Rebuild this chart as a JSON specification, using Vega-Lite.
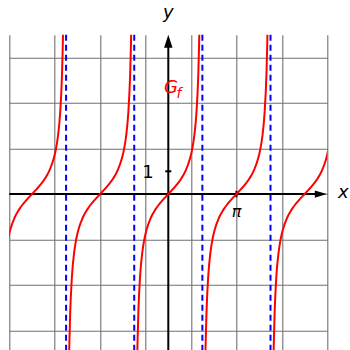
{
  "$schema": "https://vega.github.io/schema/vega-lite/v6.json",
  "width": 318,
  "height": 315.3,
  "autosize": {"type": "none"},
  "padding": {"left": 9.3, "top": 34.7, "right": 22.7, "bottom": 0},
  "background": "white",
  "config": {"view": {"stroke": null}},
  "datasets": {
    "asym": [{"x": -4.712389}, {"x": -1.570796}, {"x": 1.570796}, {"x": 4.712389}],
    "curve": [
      {"b": -2, "x": -7.38319, "y": -1.9648}, {"b": -2, "x": -7.28319, "y": -1.5574}, {"b": -2, "x": -7.08319, "y": -1.0296}, {"b": -2, "x": -6.88319, "y": -0.6841}, {"b": -2, "x": -6.68319, "y": -0.4228}, {"b": -2, "x": -6.48319, "y": -0.2027}, {"b": -2, "x": -6.28319, "y": 0}, {"b": -2, "x": -6.08319, "y": 0.2027}, {"b": -2, "x": -5.88319, "y": 0.4228}, {"b": -2, "x": -5.68319, "y": 0.6841}, {"b": -2, "x": -5.48319, "y": 1.0296}, {"b": -2, "x": -5.28319, "y": 1.5574}, {"b": -2, "x": -5.18319, "y": 1.9648}, {"b": -2, "x": -5.08319, "y": 2.5722}, {"b": -2, "x": -4.98319, "y": 3.6021}, {"b": -2, "x": -4.90319, "y": 5.1775}, {"b": -2, "x": -4.86319, "y": 6.5812}, {"b": -2, "x": -4.83319, "y": 8.2381}, {"b": -2, "x": -4.80319, "y": 10.9834},
      {"b": -1, "x": -4.62159, "y": -10.9834}, {"b": -1, "x": -4.59159, "y": -8.2381}, {"b": -1, "x": -4.56159, "y": -6.5812}, {"b": -1, "x": -4.52159, "y": -5.1775}, {"b": -1, "x": -4.44159, "y": -3.6021}, {"b": -1, "x": -4.34159, "y": -2.5722}, {"b": -1, "x": -4.24159, "y": -1.9648}, {"b": -1, "x": -4.14159, "y": -1.5574}, {"b": -1, "x": -3.94159, "y": -1.0296}, {"b": -1, "x": -3.74159, "y": -0.6841}, {"b": -1, "x": -3.54159, "y": -0.4228}, {"b": -1, "x": -3.34159, "y": -0.2027}, {"b": -1, "x": -3.14159, "y": 0}, {"b": -1, "x": -2.94159, "y": 0.2027}, {"b": -1, "x": -2.74159, "y": 0.4228}, {"b": -1, "x": -2.54159, "y": 0.6841}, {"b": -1, "x": -2.34159, "y": 1.0296}, {"b": -1, "x": -2.14159, "y": 1.5574}, {"b": -1, "x": -2.04159, "y": 1.9648}, {"b": -1, "x": -1.94159, "y": 2.5722}, {"b": -1, "x": -1.84159, "y": 3.6021}, {"b": -1, "x": -1.76159, "y": 5.1775}, {"b": -1, "x": -1.72159, "y": 6.5812}, {"b": -1, "x": -1.69159, "y": 8.2381}, {"b": -1, "x": -1.66159, "y": 10.9834},
      {"b": 0, "x": -1.48, "y": -10.9834}, {"b": 0, "x": -1.45, "y": -8.2381}, {"b": 0, "x": -1.42, "y": -6.5812}, {"b": 0, "x": -1.38, "y": -5.1775}, {"b": 0, "x": -1.3, "y": -3.6021}, {"b": 0, "x": -1.2, "y": -2.5722}, {"b": 0, "x": -1.1, "y": -1.9648}, {"b": 0, "x": -1.0, "y": -1.5574}, {"b": 0, "x": -0.8, "y": -1.0296}, {"b": 0, "x": -0.6, "y": -0.6841}, {"b": 0, "x": -0.4, "y": -0.4228}, {"b": 0, "x": -0.2, "y": -0.2027}, {"b": 0, "x": 0, "y": 0}, {"b": 0, "x": 0.2, "y": 0.2027}, {"b": 0, "x": 0.4, "y": 0.4228}, {"b": 0, "x": 0.6, "y": 0.6841}, {"b": 0, "x": 0.8, "y": 1.0296}, {"b": 0, "x": 1.0, "y": 1.5574}, {"b": 0, "x": 1.1, "y": 1.9648}, {"b": 0, "x": 1.2, "y": 2.5722}, {"b": 0, "x": 1.3, "y": 3.6021}, {"b": 0, "x": 1.38, "y": 5.1775}, {"b": 0, "x": 1.42, "y": 6.5812}, {"b": 0, "x": 1.45, "y": 8.2381}, {"b": 0, "x": 1.48, "y": 10.9834},
      {"b": 1, "x": 1.66159, "y": -10.9834}, {"b": 1, "x": 1.69159, "y": -8.2381}, {"b": 1, "x": 1.72159, "y": -6.5812}, {"b": 1, "x": 1.76159, "y": -5.1775}, {"b": 1, "x": 1.84159, "y": -3.6021}, {"b": 1, "x": 1.94159, "y": -2.5722}, {"b": 1, "x": 2.04159, "y": -1.9648}, {"b": 1, "x": 2.14159, "y": -1.5574}, {"b": 1, "x": 2.34159, "y": -1.0296}, {"b": 1, "x": 2.54159, "y": -0.6841}, {"b": 1, "x": 2.74159, "y": -0.4228}, {"b": 1, "x": 2.94159, "y": -0.2027}, {"b": 1, "x": 3.14159, "y": 0}, {"b": 1, "x": 3.34159, "y": 0.2027}, {"b": 1, "x": 3.54159, "y": 0.4228}, {"b": 1, "x": 3.74159, "y": 0.6841}, {"b": 1, "x": 3.94159, "y": 1.0296}, {"b": 1, "x": 4.14159, "y": 1.5574}, {"b": 1, "x": 4.24159, "y": 1.9648}, {"b": 1, "x": 4.34159, "y": 2.5722}, {"b": 1, "x": 4.44159, "y": 3.6021}, {"b": 1, "x": 4.52159, "y": 5.1775}, {"b": 1, "x": 4.56159, "y": 6.5812}, {"b": 1, "x": 4.59159, "y": 8.2381}, {"b": 1, "x": 4.62159, "y": 10.9834},
      {"b": 2, "x": 4.80319, "y": -10.9834}, {"b": 2, "x": 4.83319, "y": -8.2381}, {"b": 2, "x": 4.86319, "y": -6.5812}, {"b": 2, "x": 4.90319, "y": -5.1775}, {"b": 2, "x": 4.98319, "y": -3.6021}, {"b": 2, "x": 5.08319, "y": -2.5722}, {"b": 2, "x": 5.18319, "y": -1.9648}, {"b": 2, "x": 5.28319, "y": -1.5574}, {"b": 2, "x": 5.48319, "y": -1.0296}, {"b": 2, "x": 5.68319, "y": -0.6841}, {"b": 2, "x": 5.88319, "y": -0.4228}, {"b": 2, "x": 6.08319, "y": -0.2027}, {"b": 2, "x": 6.28319, "y": 0}, {"b": 2, "x": 6.48319, "y": 0.2027}, {"b": 2, "x": 6.68319, "y": 0.4228}, {"b": 2, "x": 6.88319, "y": 0.6841}, {"b": 2, "x": 7.08319, "y": 1.0296}, {"b": 2, "x": 7.28319, "y": 1.5574}, {"b": 2, "x": 7.38319, "y": 1.9648}
    ],
    "hline": [{"x": -7.330383, "x2": 6.8, "y": 0}, {"x": -0.14, "x2": 0.14, "y": 1}],
    "vline": [{"x": 0, "y": -6.85, "y2": 6.55}, {"x": 3.14159, "y": -0.14, "y2": 0.14}],
    "arrowx": [{"x": 7.03, "y": 0}],
    "arrowy": [{"x": 0, "y": 6.71}],
    "numlabels": [{"x": -0.94, "y": 0.69, "label": "1"}],
    "pilabel": [{"x": 3.15, "y": -1.0, "label": "π"}],
    "axlabels": [{"x": 8.07, "y": -0.19, "label": "x"}, {"x": 0.0, "y": 7.73, "label": "y"}],
    "glabel": [{"x": -0.2, "y": 4.42, "label": "G"}],
    "flabel": [{"x": 0.38, "y": 4.23, "label": "f"}]
  },
  "layer": [
    {
      "data": {"name": "asym"},
      "mark": {"type": "rule", "color": "#0000ff", "strokeWidth": 2, "strokeDash": [6, 4]},
      "encoding": {
        "x": {
          "field": "x", "type": "quantitative",
          "scale": {"domain": [-7.330383, 7.330383], "nice": false, "zero": false},
          "axis": {
            "values": [-7.330383, -6.283185, -5.235988, -4.18879, -3.141593, -2.094395, -1.047198, 0, 1.047198, 2.094395, 3.141593, 4.18879, 5.235988, 6.283185, 7.330383],
            "grid": true, "gridColor": "#707070", "gridWidth": 1.1, "gridOpacity": 1,
            "labels": false, "ticks": false, "domain": false, "title": null
          }
        }
      }
    },
    {
      "data": {"name": "hline"},
      "mark": {"type": "rule", "color": "black", "strokeWidth": 2},
      "encoding": {
        "x": {"field": "x", "type": "quantitative"},
        "x2": {"field": "x2"},
        "y": {
          "field": "y", "type": "quantitative",
          "scale": {"domain": [-6.85, 7], "nice": false, "zero": false},
          "axis": {
            "values": [-6, -5, -4, -3, -2, -1, 0, 1, 2, 3, 4, 5, 6, 7],
            "grid": true, "gridColor": "#707070", "gridWidth": 1.1, "gridOpacity": 1,
            "labels": false, "ticks": false, "domain": false, "title": null
          }
        }
      }
    },
    {
      "data": {"name": "vline"},
      "mark": {"type": "rule", "color": "black", "strokeWidth": 2},
      "encoding": {
        "x": {"field": "x", "type": "quantitative"},
        "y": {"field": "y", "type": "quantitative"},
        "y2": {"field": "y2"}
      }
    },
    {
      "data": {"name": "arrowx"},
      "mark": {"type": "point", "shape": "M -1 -0.6 L 1 0 L -1 0.6 Z", "size": 144, "filled": true, "color": "black", "opacity": 1},
      "encoding": {
        "x": {"field": "x", "type": "quantitative"},
        "y": {"field": "y", "type": "quantitative"}
      }
    },
    {
      "data": {"name": "arrowy"},
      "mark": {"type": "point", "shape": "M -0.65 1 L 0 -1 L 0.65 1 Z", "size": 169, "filled": true, "color": "black", "opacity": 1},
      "encoding": {
        "x": {"field": "x", "type": "quantitative"},
        "y": {"field": "y", "type": "quantitative"}
      }
    },
    {
      "data": {"name": "curve"},
      "mark": {"type": "line", "color": "#ff0000", "strokeWidth": 2, "interpolate": "monotone", "clip": true},
      "encoding": {
        "x": {"field": "x", "type": "quantitative"},
        "y": {"field": "y", "type": "quantitative"},
        "detail": {"field": "b", "type": "nominal"}
      }
    },
    {
      "data": {"name": "numlabels"},
      "mark": {"type": "text", "font": "DejaVu Sans", "fontSize": 18, "align": "center", "baseline": "alphabetic", "color": "black"},
      "encoding": {
        "x": {"field": "x", "type": "quantitative"},
        "y": {"field": "y", "type": "quantitative"},
        "text": {"field": "label"}
      }
    },
    {
      "data": {"name": "pilabel"},
      "mark": {"type": "text", "font": "DejaVu Sans", "fontSize": 16, "fontStyle": "italic", "align": "center", "baseline": "alphabetic", "color": "black"},
      "encoding": {
        "x": {"field": "x", "type": "quantitative"},
        "y": {"field": "y", "type": "quantitative"},
        "text": {"field": "label"}
      }
    },
    {
      "data": {"name": "axlabels"},
      "mark": {"type": "text", "font": "DejaVu Sans", "fontSize": 18, "fontStyle": "italic", "align": "center", "baseline": "alphabetic", "color": "black"},
      "encoding": {
        "x": {"field": "x", "type": "quantitative"},
        "y": {"field": "y", "type": "quantitative"},
        "text": {"field": "label"}
      }
    },
    {
      "data": {"name": "glabel"},
      "mark": {"type": "text", "font": "DejaVu Sans", "fontSize": 18, "fontStyle": "italic", "align": "left", "baseline": "alphabetic", "color": "#ff0000"},
      "encoding": {
        "x": {"field": "x", "type": "quantitative"},
        "y": {"field": "y", "type": "quantitative"},
        "text": {"field": "label"}
      }
    },
    {
      "data": {"name": "flabel"},
      "mark": {"type": "text", "font": "DejaVu Sans", "fontSize": 14, "fontStyle": "italic", "align": "left", "baseline": "alphabetic", "color": "#ff0000"},
      "encoding": {
        "x": {"field": "x", "type": "quantitative"},
        "y": {"field": "y", "type": "quantitative"},
        "text": {"field": "label"}
      }
    }
  ]
}
